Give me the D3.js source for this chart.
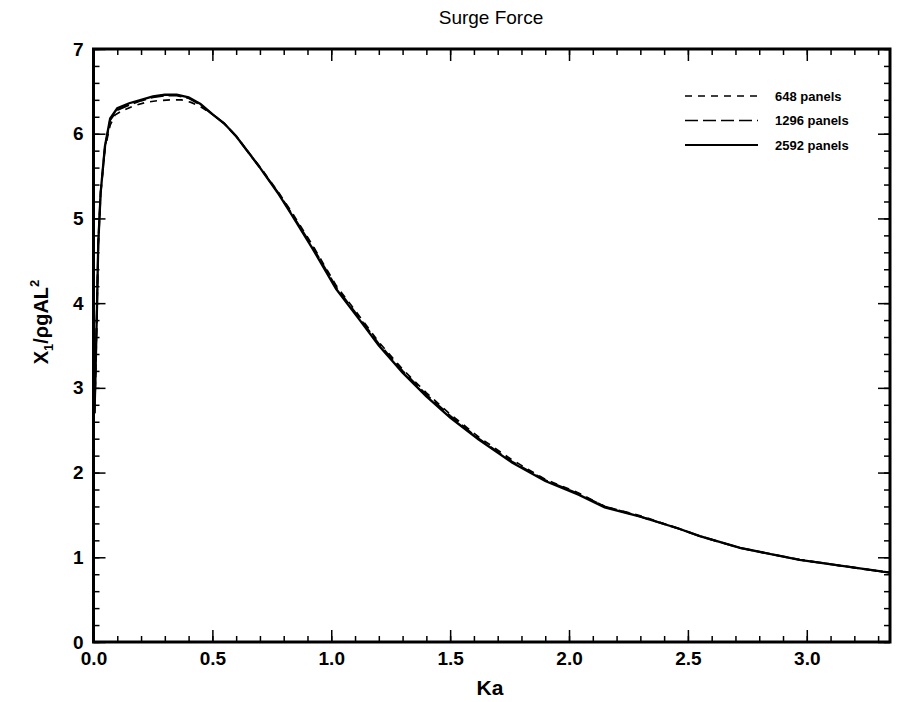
<!DOCTYPE html>
<html>
<head>
<meta charset="utf-8">
<script src="https://cdn.jsdelivr.net/npm/d3@7"></script>
<style>
  body { margin: 0; background: #fff; }
  svg text { font-family: "Liberation Sans", Arial, sans-serif; fill: #000; }
</style>
</head>
<body>
<div id="chart"></div>
<script>
// wave number values (Ka) and the surge force for each panel count
var ka2592 = [0.004, 0.008, 0.015, 0.02, 0.03, 0.048, 0.07, 0.1, 0.15, 0.2, 0.25, 0.3, 0.35, 0.4, 0.45, 0.5, 0.55, 0.6,
              0.7, 0.78, 0.83, 0.92, 1.02, 1.12, 1.2, 1.3, 1.4, 1.5, 1.62, 1.76, 1.9, 2.04, 2.15, 2.3, 2.46, 2.55, 2.72, 2.97, 3.32, 3.35];
var force2592 = [2.7, 3.1, 4.0, 4.7, 5.3, 5.85, 6.18, 6.30, 6.36, 6.40, 6.44, 6.46, 6.46, 6.43, 6.35, 6.23, 6.12, 5.97,
                 5.60, 5.28, 5.06, 4.65, 4.17, 3.80, 3.50, 3.18, 2.90, 2.65, 2.39, 2.12, 1.90, 1.74, 1.59, 1.48, 1.34, 1.25, 1.11, 0.97, 0.83, 0.82];

var ka1296 = [0.004, 0.008, 0.015, 0.02, 0.03, 0.048, 0.07, 0.1, 0.15, 0.2, 0.25, 0.3, 0.35, 0.4, 0.45, 0.5, 0.55, 0.6,
              0.7, 0.78, 0.83, 0.92, 1.02, 1.12, 1.2, 1.3, 1.4, 1.5, 1.62, 1.76, 1.9, 2.04, 2.15, 2.3, 2.46, 2.55, 2.72, 2.97, 3.32, 3.35];
var force1296 = [2.7, 3.1, 4.0, 4.7, 5.3, 5.84, 6.16, 6.28, 6.34, 6.39, 6.43, 6.45, 6.45, 6.42, 6.34, 6.23, 6.12, 5.97,
                 5.60, 5.29, 5.07, 4.67, 4.19, 3.82, 3.52, 3.20, 2.92, 2.67, 2.40, 2.13, 1.91, 1.75, 1.60, 1.48, 1.34, 1.25, 1.11, 0.97, 0.83, 0.82];

var ka648 = [0.004, 0.008, 0.015, 0.02, 0.03, 0.048, 0.07, 0.09, 0.12, 0.17, 0.22, 0.27, 0.33, 0.37, 0.41, 0.45, 0.5, 0.55, 0.6,
             0.7, 0.78, 0.83, 0.92, 1.02, 1.12, 1.2, 1.3, 1.4, 1.5, 1.62, 1.76, 1.9, 2.04, 2.15, 2.3, 2.46, 2.55, 2.72, 2.97, 3.32, 3.35];
var force648 = [2.7, 3.1, 4.0, 4.7, 5.3, 5.82, 6.10, 6.22, 6.27, 6.33, 6.37, 6.39, 6.40, 6.40, 6.37, 6.32, 6.23, 6.12, 5.97,
                5.61, 5.30, 5.09, 4.69, 4.21, 3.84, 3.54, 3.22, 2.94, 2.69, 2.42, 2.15, 1.92, 1.76, 1.60, 1.49, 1.34, 1.25, 1.11, 0.97, 0.83, 0.82];

var seriesNames = ["648 panels", "1296 panels", "2592 panels"];
var xTicks = [0, 0.5, 1.0, 1.5, 2.0, 2.5, 3.0];
var yTicks = [0, 1, 2, 3, 4, 5, 6, 7];

var width = 898, height = 702;
var margin = {top: 49, right: 8, bottom: 60, left: 93.5};
var w = width - margin.left - margin.right,
    h = height - margin.top - margin.bottom;

var svg = d3.select("#chart").append("svg")
  .attr("width", width)
  .attr("height", height);

var g = svg.append("g")
  .attr("transform", "translate(" + margin.left + "," + margin.top + ")");

var x = d3.scaleLinear().domain([0, 3.35]).range([0, w]);
var y = d3.scaleLinear().domain([0, 7]).range([h, 0]);

var xMinor = d3.range(0, 3.35, 0.1);
var yMinor = d3.range(0, 7.001, 0.2);

// major ticks with labels, ticks point inward
g.append("g").attr("class", "axis")
  .attr("transform", "translate(0," + h + ")")
  .call(d3.axisBottom(x).tickValues(xTicks).tickFormat(d3.format(".1f")).tickSizeInner(-12).tickSizeOuter(0).tickPadding(10));
g.append("g").attr("class", "axis")
  .call(d3.axisLeft(y).tickValues(yTicks).tickFormat(d3.format("d")).tickSizeInner(-12).tickSizeOuter(0).tickPadding(10));
g.append("g").attr("class", "axis noLabel")
  .call(d3.axisTop(x).tickValues(xTicks).tickSizeInner(-12).tickSizeOuter(0));
g.append("g").attr("class", "axis noLabel")
  .attr("transform", "translate(" + w + ",0)")
  .call(d3.axisRight(y).tickValues(yTicks).tickSizeInner(-12).tickSizeOuter(0));

// minor ticks
g.append("g").attr("class", "axis noLabel")
  .attr("transform", "translate(0," + h + ")")
  .call(d3.axisBottom(x).tickValues(xMinor).tickSizeInner(-6).tickSizeOuter(0));
g.append("g").attr("class", "axis noLabel")
  .call(d3.axisTop(x).tickValues(xMinor).tickSizeInner(-6).tickSizeOuter(0));
g.append("g").attr("class", "axis noLabel")
  .call(d3.axisLeft(y).tickValues(yMinor).tickSizeInner(-6).tickSizeOuter(0));
g.append("g").attr("class", "axis noLabel")
  .attr("transform", "translate(" + w + ",0)")
  .call(d3.axisRight(y).tickValues(yMinor).tickSizeInner(-6).tickSizeOuter(0));

g.selectAll(".axis path").remove();
g.selectAll(".axis line").attr("stroke", "#000").attr("stroke-width", 1.5);
g.selectAll(".noLabel text").remove();
g.selectAll(".axis text").style("font-size", "19px").style("font-weight", "bold").attr("fill", "#000");

// frame
g.append("rect")
  .attr("width", w).attr("height", h)
  .attr("fill", "none").attr("stroke", "#000").attr("stroke-width", 3);

// curves
var line = d3.line()
  .x(function(d) { return x(d[0]); })
  .y(function(d) { return y(d[1]); });

var series = [
  {name: seriesNames[0], ka: ka648, f: force648, dash: "7,6", sw: 1.7},
  {name: seriesNames[1], ka: ka1296, f: force1296, dash: "13,5", sw: 2},
  {name: seriesNames[2], ka: ka2592, f: force2592, dash: null, sw: 2.3}
];

series.forEach(function(s) {
  var pts = s.ka.map(function(k, i) { return [k, s.f[i]]; });
  g.append("path")
    .datum(pts)
    .attr("d", line)
    .attr("fill", "none")
    .attr("stroke", "#000")
    .attr("stroke-width", s.sw)
    .attr("stroke-dasharray", s.dash);
});

// legend
var legend = g.append("g").attr("transform", "translate(" + (685 - margin.left) + "," + (96 - margin.top) + ")");
series.forEach(function(s, i) {
  var row = legend.append("g").attr("transform", "translate(0," + (i * 24.5) + ")");
  row.append("line")
    .attr("x1", 0).attr("x2", 73)
    .attr("stroke", "#000")
    .attr("stroke-width", s.sw * 0.8)
    .attr("stroke-dasharray", s.dash);
  row.append("text")
    .attr("x", 90).attr("dy", "0.35em")
    .style("font-size", "13px")
    .style("font-weight", "bold")
    .text(s.name);
});

// title and axis labels
svg.append("text")
  .attr("x", 491).attr("y", 24)
  .attr("text-anchor", "middle")
  .style("font-size", "19px")
  .text("Surge Force");

svg.append("text")
  .attr("x", 490).attr("y", 695)
  .attr("text-anchor", "middle")
  .style("font-size", "21px")
  .style("font-weight", "bold")
  .text("Ka");

var yl = svg.append("text")
  .attr("transform", "translate(48,322) rotate(-90)")
  .attr("text-anchor", "middle")
  .style("font-size", "20px")
  .style("font-weight", "bold");
yl.append("tspan").text("X");
yl.append("tspan").attr("dy", 5).style("font-size", "13px").text("1");
yl.append("tspan").attr("dy", -5).text("/ρgAL");
yl.append("tspan").attr("dy", -9).style("font-size", "13px").text("2");
</script>
</body>
</html>
